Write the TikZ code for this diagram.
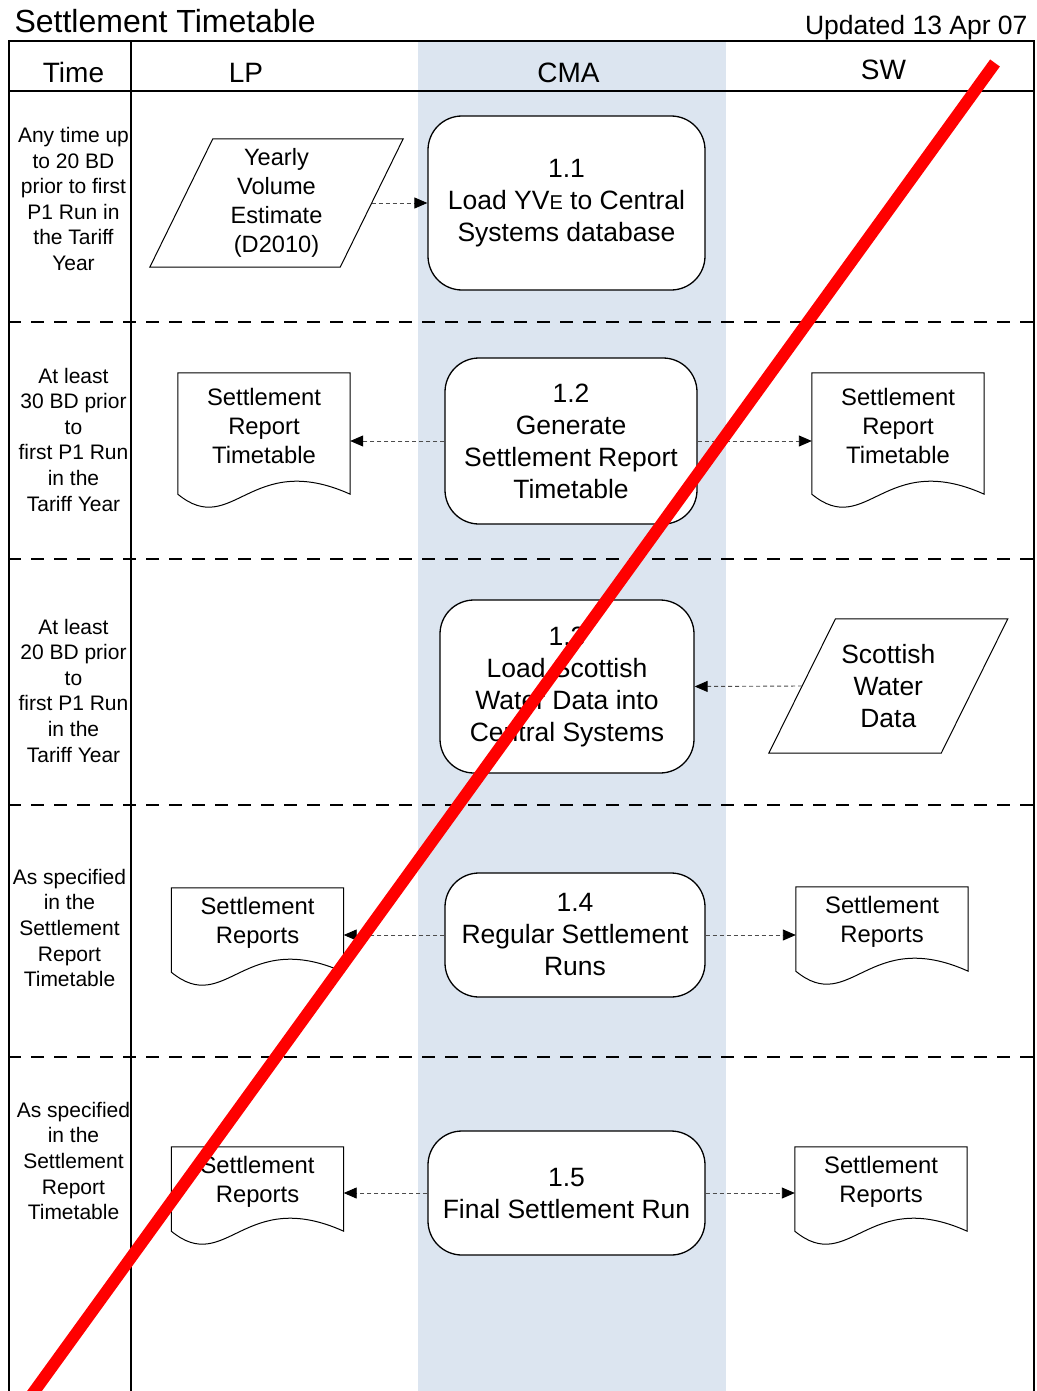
\documentclass[tikz,border=0pt]{standalone}
\usepackage{fontspec}
\setmainfont{Liberation Sans}
\usepackage{tikz}
\usetikzlibrary{arrows.meta,calc}
\definecolor{cmashade}{RGB}{220,229,240}
\newcommand{\fs}[2]{\fontsize{#1}{#2}\selectfont}
% document symbol with a wavy foot
\newcommand{\docoutline}[1]{%
  \draw[outline] (#1.north west) -- ([yshift=-15pt]#1.south west)
    .. controls +(55pt,-45pt) and +(-100pt,45pt) .. ([yshift=-15pt]#1.south east)
    -- (#1.north east) -- cycle;}
% data symbol, #2 = half the slant
\newcommand{\dataoutline}[2]{%
  \draw[outline] ([xshift=-#2]#1.south west) -- ([xshift=#2]#1.north west)
    -- ([xshift=#2]#1.north east) -- ([xshift=-#2]#1.south east) -- cycle;}

\begin{document}
\begin{tikzpicture}[x=1pt,y=-1pt,
  frame/.style={line width=2pt},
  rowsep/.style={line width=2pt,dash pattern=on 13pt off 10pt},
  outline/.style={line width=1pt},
  header/.style={anchor=base,font=\fs{28}{30}},
  timetext/.style={align=center,font=\fs{21}{25.6}},
  process/.style={draw,rounded corners=34pt,line width=1.3pt,fill=white,
    align=center,inner sep=0pt,font=\fs{26.5}{32}},
  docbox/.style={align=center,inner sep=0pt,minimum width=172pt,font=\fs{23.8}{29}},
  databox/.style={align=center,inner sep=0pt},
  flow/.style={draw=black!70,line width=0.9pt,dash pattern=on 4pt off 3pt,
    -{Triangle[length=13pt,width=11pt,color=black]}}]
\useasboundingbox (0,0) rectangle (1036,1391);

% lanes and rows
\begin{scope}
\clip (0,0) rectangle (1036,1391);
\fill[cmashade] (418,41) rectangle (726,1400);
\draw[frame] (9,1400) -- (9,41) -- (1034,41) -- (1034,1400);
\draw[frame] (9,91) -- (1034,91);
\draw[frame] (131,41) -- (131,1400);
\foreach \y in {322,559,805,1057}
  \draw[rowsep] (8,\y) -- (1034,\y);
\end{scope}

\node[anchor=base west,font=\fs{32}{34}] (title) at (11,33) {Settlement Timetable};
\node[anchor=base east,font=\fs{26.5}{28}] (updated) at (1031,35) {Updated 13 Apr 07};

\node[header] (hTime) at (73.5,83) {Time};
\node[header] (hLP) at (246,83) {LP};
\node[header] (hCMA) at (568.5,83) {CMA};
\node[header] (hSW) at (883.5,80) {SW};

% time column
\node[timetext] (t1) at (73.5,199) {Any time up\\to 20 BD\\prior to first\\P1 Run in\\the Tariff\\Year};
\node[timetext] (t2) at (73.5,439.5) {At least\\30 BD prior\\to\\first P1 Run\\in the\\Tariff Year};
\node[timetext] (t3) at (73.5,690.5) {At least\\20 BD prior\\to\\first P1 Run\\in the\\Tariff Year};
\node[timetext] (t4) at (69.5,928) {As specified\\in the\\Settlement\\Report\\Timetable};
\node[timetext] (t5) at (73.5,1161) {As specified\\in the\\Settlement\\Report\\Timetable};

% processes
\node[process,minimum width=277pt,minimum height=174pt] (p11) at (566.5,203)
  {1.1\\Load YV{\fs{20}{32}E} to Central\\Systems database};
\node[process,minimum width=252pt,minimum height=166pt] (p12) at (571,441)
  {1.2\\Generate\\Settlement Report\\Timetable};
\node[process,minimum width=254pt,minimum height=173pt] (p13) at (567,686.5)
  {1.3\\Load Scottish\\Water Data into\\Central Systems};
\node[process,minimum width=260pt,minimum height=124pt] (p14) at (575,935)
  {1.4\\Regular Settlement\\Runs};
\node[process,minimum width=277pt,minimum height=124pt] (p15) at (566.5,1193)
  {1.5\\Final Settlement Run};

% data
\node[databox,minimum width=190pt,minimum height=128pt,font=\fs{23.6}{29}] (dLP) at (276.5,203)
  {Yearly\\Volume\\Estimate\\(D2010)};
\dataoutline{dLP}{31.5pt}
\node[databox,minimum width=172pt,minimum height=134pt,font=\fs{26.4}{32}] (dSW) at (888.3,686)
  {Scottish\\Water\\Data};
\dataoutline{dSW}{33.3pt}

% documents
\node[docbox,minimum height=106pt] (d12l) at (264,426) {Settlement\\Report\\Timetable};
\docoutline{d12l}
\node[docbox,minimum height=106pt] (d12r) at (898,426) {Settlement\\Report\\Timetable};
\docoutline{d12r}
\node[docbox,minimum height=69pt] (d14l) at (257.5,922.5) {Settlement\\Reports};
\docoutline{d14l}
\node[docbox,minimum height=69pt] (d14r) at (882,921.5) {Settlement\\Reports};
\docoutline{d14r}
\node[docbox,minimum height=69pt] (d15l) at (257.5,1181.5) {Settlement\\Reports};
\docoutline{d15l}
\node[docbox,minimum height=69pt] (d15r) at (881,1181.5) {Settlement\\Reports};
\docoutline{d15r}

% flows
\draw[flow] (dLP.east) -- (p11.west);
\draw[flow] (p12.west) -- (d12l.east |- p12.west);
\draw[flow] (p12.east) -- (d12r.west |- p12.east);
\draw[flow] (dSW.west) -- (p13.east);
\draw[flow] (p14.west) -- (d14l.east |- p14.west);
\draw[flow] (p14.east) -- (d14r.west |- p14.east);
\draw[flow] (p15.west) -- (d15l.east |- p15.west);
\draw[flow] (p15.east) -- (d15r.west |- p15.east);

% strike-through
\begin{scope}
\clip (0,0) rectangle (1036,1391);
\draw[red,line width=12pt] (28,1400) -- (995,63);
\end{scope}
\end{tikzpicture}
\end{document}
